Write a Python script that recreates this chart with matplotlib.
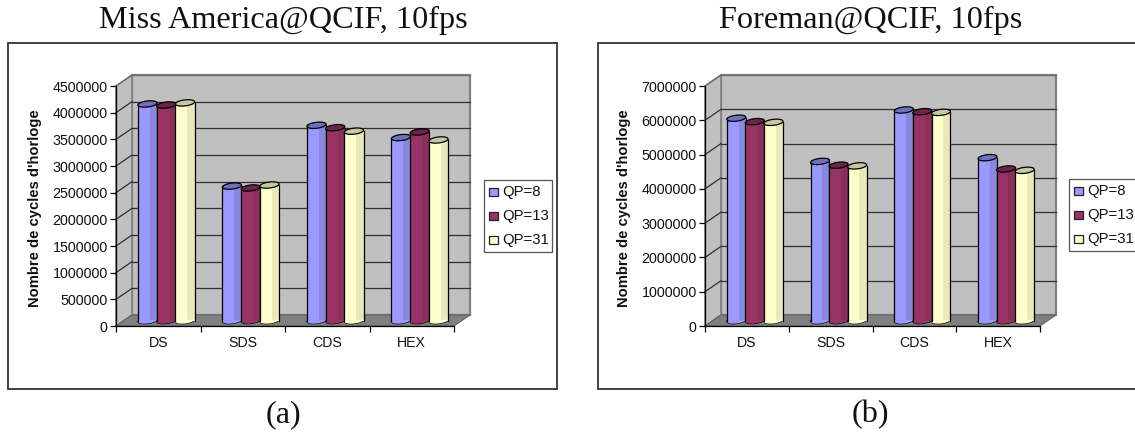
import numpy as np
import matplotlib
matplotlib.use("Agg")
import matplotlib.pyplot as plt
from matplotlib.patches import Rectangle, Polygon
from matplotlib.transforms import Affine2D

categories = ["DS", "SDS", "CDS", "HEX"]
series_names = ["QP=8", "QP=13", "QP=31"]
miss_qp8 = [4060000, 2520000, 3660000, 3430000]
miss_qp13 = [4040000, 2485000, 3615000, 3535000]
miss_qp31 = [4080000, 2540000, 3550000, 3385000]
foreman_qp8 = [5900000, 4640000, 6140000, 4750000]
foreman_qp13 = [5800000, 4530000, 6090000, 4420000]
foreman_qp31 = [5780000, 4510000, 6070000, 4380000]
miss_ticks = [0, 500000, 1000000, 1500000, 2000000, 2500000, 3000000, 3500000, 4000000, 4500000]
foreman_ticks = [0, 1000000, 2000000, 3000000, 4000000, 5000000, 6000000, 7000000]

W, H = 1135, 432
body = ["#9999ff", "#993366", "#ffffcc"]
shade = ["#8888dd", "#8a2e5c", "#e8e8bb"]
capc = ["#7070c0", "#6e2449", "#c8c8a0"]
SERIF = "Liberation Serif"
SANS = "Liberation Sans"

fig = plt.figure(figsize=(W / 100, H / 100), dpi=100, facecolor="white")


def px(x, y):
    return x / W, 1 - y / H


def frame(x0, y0, x1, y1, lw=1.3, ec="#333333"):
    fig.add_artist(Rectangle(px(x0, y1), (x1 - x0) / W, (y1 - y0) / H, transform=fig.transFigure,
                             fc="white", ec=ec, lw=lw, clip_on=False, zorder=-1))


def panel(x0, x1, ticks, values, frame_box, legend_box, ylab_x, title, title_x, cap, cap_x):
    frame(*frame_box)
    ytop, ybot = 86, 326
    ax = fig.add_axes([x0 / W, 1 - ybot / H, (x1 - x0) / W, (ybot - ytop) / H])
    ymax = ticks[-1]
    ax.set_xlim(0, 4)
    ax.set_ylim(0, ymax)
    ax.patch.set_visible(False)
    for s in ax.spines.values():
        s.set_visible(False)
    ax.spines["left"].set_visible(True)
    ax.spines["bottom"].set_visible(True)
    ax.spines["left"].set_linewidth(0.9)
    ax.spines["bottom"].set_linewidth(0.9)
    ax.spines["left"].set_zorder(6)
    ax.spines["bottom"].set_zorder(6)

    back = ax.transData + Affine2D().translate(16, 11)
    mid = ax.transData + Affine2D().translate(8, 5.5)
    dx_b, dy_b = 16 / (x1 - x0) * 4, 11 / (ybot - ytop) * ymax

    # walls and floor
    ax.add_patch(Rectangle((0, 0), 4, ymax, transform=back, fc="#c0c0c0", ec="#808080", lw=1.6, zorder=1, clip_on=False))
    ax.add_patch(Polygon([(0, 0), (dx_b, dy_b), (dx_b, ymax + dy_b), (0, ymax)], closed=True, fc="#c0c0c0",
                         ec="#808080", lw=1.2, zorder=1, clip_on=False))
    ax.add_patch(Polygon([(0, 0), (dx_b, dy_b), (4 + dx_b, dy_b), (4, 0)], closed=True, fc="#808080",
                         ec="#666666", lw=0.8, zorder=2, clip_on=False))
    for t in ticks[1:]:
        c = "#707070" if t == ticks[-1] else "#303030"
        ax.plot([0, 4], [t, t], transform=back, color=c, lw=0.9, zorder=2, clip_on=False)
        ax.plot([0, dx_b], [t, t + dy_b], color=c, lw=0.9, zorder=2, clip_on=False)

    # cylinders
    w = 0.226
    a = w / 2
    b = 3.0 / (ybot - ytop) * ymax
    tt = np.linspace(0, 2 * np.pi, 60)
    for i in range(len(categories)):
        for j, vals in enumerate(values):
            cx = i + 0.5 + (j - 1) * 0.222
            v = vals[i]
            z = 3 + 0.1 * (i * 3 + j)
            ex = cx + a * np.cos(tt)
            skew = 0.35 * b * np.cos(tt)
            ax.fill(ex, b * np.sin(tt) + skew, transform=mid, fc=body[j], ec="black", lw=0.9, zorder=z, clip_on=False)
            ax.bar(cx, v, width=w, color=body[j], lw=0, transform=mid, zorder=z + 0.01, clip_on=False)
            ax.bar(cx + a * 0.62, v, width=a * 0.76, color=shade[j], lw=0, transform=mid, zorder=z + 0.02, clip_on=False)
            ax.fill(cx + a * np.cos(tt[:31]), -b * np.sin(tt[:31]) + skew[:31], transform=mid, fc=body[j], lw=0, zorder=z + 0.02, clip_on=False)
            ax.plot([cx - a, cx - a], [0, v], transform=mid, color="black", lw=0.9, zorder=z + 0.03, clip_on=False)
            ax.plot([cx + a, cx + a], [0, v], transform=mid, color="black", lw=0.9, zorder=z + 0.03, clip_on=False)
            ax.fill(ex, v + b * np.sin(tt) + skew, transform=mid, fc=capc[j], ec="black", lw=0.9, zorder=z + 0.04, clip_on=False)

    ax.set_yticks(ticks)
    ax.set_yticklabels([str(t) for t in ticks], family=SANS, fontsize=10.3, color="#111111")
    ax.set_xticks(range(5))
    ax.set_xticklabels([""] * 5)
    ax.tick_params(axis="y", length=4, width=0.9, pad=2)
    ax.tick_params(axis="x", length=4, width=0.9, pad=2)
    for i, c in enumerate(categories):
        ax.text(i + 0.5, 0, c, transform=ax.get_xaxis_transform() + Affine2D().translate(0, -17),
                ha="center", va="center", family=SANS, fontsize=10.2, color="#111111")
    fig.text(*px(ylab_x, 208), "Nombre de cycles d'horloge", rotation=90, ha="center", va="center",
             family=SANS, fontweight="bold", fontsize=10.6, color="#111111")

    # legend
    lx0, ly0, lx1, ly1 = legend_box
    fig.add_artist(Rectangle(px(lx0, ly1), (lx1 - lx0) / W, (ly1 - ly0) / H, transform=fig.transFigure,
                             fc="white", ec="#555555", lw=0.9, zorder=8))
    for j, n in enumerate(series_names):
        yc = ly0 + 12 + j * 24
        fig.add_artist(Rectangle(px(lx0 + 5.2, yc + 4.3), 8.6 / W, 8.6 / H, transform=fig.transFigure,
                                 fc=body[j], ec="#222222", lw=0.9, zorder=9))
        fig.text(*px(lx0 + 18.5, yc), n, family=SANS, fontsize=10.7, va="center", ha="left", color="#111111", zorder=9)

    fig.text(*px(title_x, 20), title, family=SERIF, fontsize=23.2, ha="center", va="center", color="#111111")
    fig.text(*px(cap_x, 415), cap, family=SERIF, fontsize=23.2, ha="center", va="center", color="#111111")


panel(116, 454, miss_ticks, [miss_qp8, miss_qp13, miss_qp31], (8, 43, 557, 388.5), (484, 180, 552, 252), 35,
      "Miss America@QCIF, 10fps", 283, "(a)", 283)
panel(705, 1040, foreman_ticks, [foreman_qp8, foreman_qp13, foreman_qp31], (598, 43, 1150, 388.5), (1069, 179, 1150, 251), 624,
      "Foreman@QCIF, 10fps", 870.5, "(b)", 870)

fig.savefig("out.png", dpi=100, facecolor="white")
